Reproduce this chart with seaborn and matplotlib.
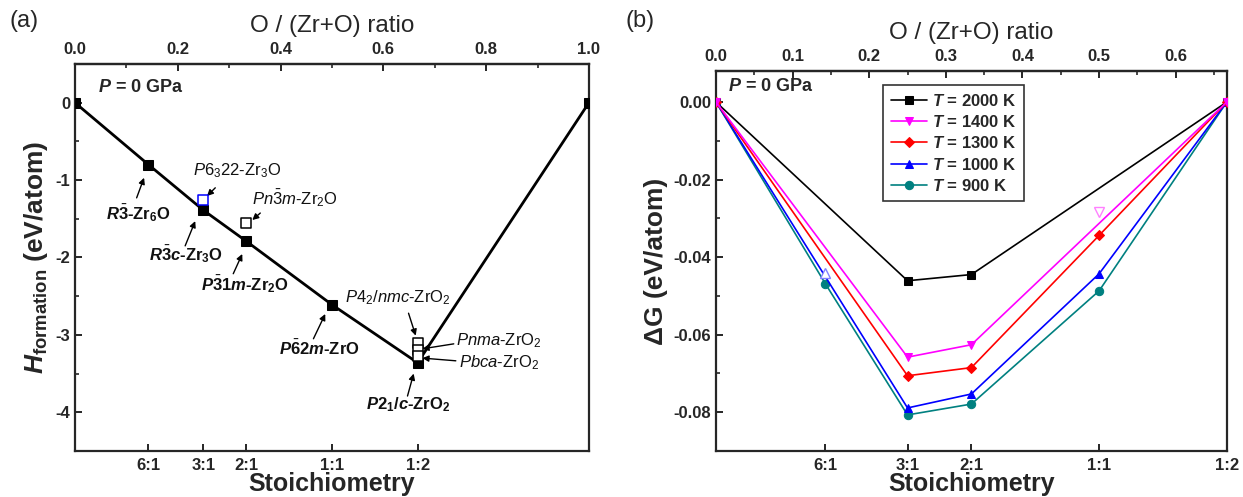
import pandas as pd
import matplotlib
matplotlib.use("Agg")
import matplotlib.pyplot as plt
import seaborn as sns
from matplotlib.ticker import MultipleLocator, FormatStrFormatter

# -----------------------------
# Data
# -----------------------------
# O/(Zr+O) ratio of each stoichiometry
stoich_labels = ["6:1", "3:1", "2:1", "1:1", "1:2"]
stoich_x = [1 / 7, 1 / 4, 1 / 3, 1 / 2, 2 / 3]

# top axis ticks (O/(Zr+O) ratio)
top_ticks_a = [0.0, 0.2, 0.4, 0.6, 0.8, 1.0]
top_minor_a = [0.1, 0.3, 0.5, 0.7, 0.9]
top_ticks_b = [0.0, 0.1, 0.2, 0.3, 0.4, 0.5, 0.6]
top_minor_b = [0.05, 0.15, 0.25, 0.35, 0.45, 0.55, 0.65]

# panel (a): convex hull of formation enthalpy
hull_x = [0.0, 1 / 7, 1 / 4, 1 / 3, 1 / 2, 2 / 3, 1.0]
hull_h = [0.0, -0.80, -1.39, -1.79, -2.61, -3.36, 0.0]

# metastable phases (open squares)
meta_names = ["P6322", "Pn-3m", "P42/nmc", "Pnma", "Pbca"]
meta_x = [1 / 4, 1 / 3, 2 / 3, 2 / 3, 2 / 3]
meta_h = [-1.26, -1.55, -3.10, -3.19, -3.27]
meta_edge = ["#0000ff", "black", "black", "black", "black"]

# panel (b): Gibbs free energy at several temperatures
g2000_x = [0.0, 1 / 4, 1 / 3, 2 / 3]
g2000 = [0.0, -0.0461, -0.0445, 0.0]
g1400_x = [0.0, 1 / 4, 1 / 3, 2 / 3]
g1400 = [0.0, -0.0658, -0.0626, 0.0]
g1300_x = [0.0, 1 / 4, 1 / 3, 1 / 2, 2 / 3]
g1300 = [0.0, -0.0706, -0.0685, -0.0344, 0.0]
g1000_x = [0.0, 1 / 4, 1 / 3, 1 / 2, 2 / 3]
g1000 = [0.0, -0.0789, -0.0753, -0.0443, 0.0]
g900_x = [0.0, 1 / 7, 1 / 4, 1 / 3, 1 / 2, 2 / 3]
g900 = [0.0, -0.0469, -0.0807, -0.0779, -0.0487, 0.0]

# off-hull points (open markers)
open1400_x, open1400 = [1 / 2], [-0.0283]
open1000_x, open1000 = [1 / 7], [-0.0441]

# -----------------------------
# Style
# -----------------------------
sns.set_style("ticks")
plt.rcParams["font.family"] = ["Liberation Sans", "DejaVu Sans"]
plt.rcParams["mathtext.fontset"] = "custom"
plt.rcParams["mathtext.rm"] = "Liberation Sans"
plt.rcParams["mathtext.it"] = "Liberation Sans:italic"
plt.rcParams["mathtext.bf"] = "Liberation Sans:bold"
plt.rcParams["mathtext.bfit"] = "Liberation Sans:italic:bold"
plt.rcParams["axes.unicode_minus"] = False
plt.rcParams["axes.linewidth"] = 1.6

fig = plt.figure(figsize=(12.43, 4.97), dpi=100)
ax1 = fig.add_axes([0.0603, 0.0926, 0.4135, 0.7787])
ax2 = fig.add_axes([0.576, 0.0926, 0.411, 0.7646])


def style_axes(ax, xmax, top_major, top_minor):
    ax.set_xlim(0, xmax)
    ax.set_xticks(stoich_x, stoich_labels)
    ax.tick_params(axis="x", which="both", direction="in", top=False,
                   length=5, width=1.4, labelsize=12, pad=5)
    ax.tick_params(axis="y", which="major", direction="in", right=False,
                   length=5, width=1.4, labelsize=12)
    ax.tick_params(axis="y", which="minor", direction="in", right=False,
                   length=3, width=1.2)
    for lab in ax.get_xticklabels() + ax.get_yticklabels():
        lab.set_fontweight("bold")
    sec = ax.secondary_xaxis("top")
    sec.set_xticks(top_major, [f"{t:.1f}" for t in top_major])
    sec.set_xticks(top_minor, minor=True)
    sec.tick_params(which="major", direction="in", length=5, width=1.4,
                    labelsize=12, pad=5)
    sec.tick_params(which="minor", direction="in", length=3, width=1.2)
    sec.spines["top"].set_linewidth(1.6)
    for lab in sec.get_xticklabels():
        lab.set_fontweight("bold")
    sec.set_xlabel("O / (Zr+O) ratio", fontsize=17.5, labelpad=7)
    ax.set_xlabel("Stoichiometry", fontsize=18, fontweight="bold", labelpad=-1)


# -----------------------------
# (a) formation enthalpy
# -----------------------------
sns.lineplot(x=hull_x, y=hull_h, ax=ax1, color="black", lw=2, marker="s",
             markersize=7, markeredgecolor="black", sort=False, zorder=3)
for mx, mh, ec in zip(meta_x, meta_h, meta_edge):
    sns.scatterplot(x=[mx], y=[mh], ax=ax1, marker="s", s=45, color="white",
                    edgecolor=ec, linewidth=1.1, zorder=4)

ax1.set_ylim(-4.5, 0.5)
ax1.yaxis.set_major_locator(MultipleLocator(1))
ax1.yaxis.set_minor_locator(MultipleLocator(0.5))
ax1.yaxis.set_major_formatter(FormatStrFormatter("%d"))
style_axes(ax1, 1.0, top_ticks_a, top_minor_a)
ax1.set_ylabel(r"$\mathbfit{H}_{\mathbf{formation}}$ (eV/atom)", fontsize=19,
               fontweight="bold", labelpad=4)

# label text, text position, arrow tail, arrow head, bold?
labels_a = [
    (r"$\mathbfit{R}\bar{\mathbf{3}}$-Zr$_{\mathbf{6}}$O", (0.123, -1.43), (0.120, -1.23), (0.1345, -0.97), True),
    (r"$\mathbfit{R}\bar{\mathbf{3}}\mathbfit{c}$-Zr$_{\mathbf{3}}$O", (0.216, -1.96), (0.2144, -1.85), (0.234, -1.53), True),
    (r"$\mathbfit{P}\bar{\mathbf{3}}\mathbf{1}\mathbfit{m}$-Zr$_{\mathbf{2}}$O", (0.331, -2.34), (0.308, -2.21), (0.3255, -1.955), True),
    (r"$\mathbfit{P}\bar{\mathbf{6}}\mathbf{2}\mathbfit{m}$-ZrO", (0.4756, -3.18), (0.464, -3.05), (0.487, -2.73), True),
    (r"$\mathbfit{P}\mathbf{2}_{\mathbf{1}}\mathbf{/}\mathbfit{c}$-ZrO$_{\mathbf{2}}$", (0.649, -3.90), (0.647, -3.79), (0.659, -3.50), True),
    (r"$\mathit{P}6_{3}22$-Zr$_3$O", (0.316, -0.88), (0.273, -1.10), (0.257, -1.206), False),
    (r"$\mathit{Pn}\bar{3}\mathit{m}$-Zr$_2$O", (0.427, -1.23), (0.3606, -1.426), (0.345, -1.516), False),
    (r"$\mathit{P}4_{2}\mathit{/nmc}$-ZrO$_2$", (0.628, -2.52), (0.649, -2.72), (0.663, -3.01), False),
]
for txt, tpos, tail, head, bold in labels_a:
    ax1.text(tpos[0], tpos[1], txt, ha="center", va="center", fontsize=12,
             fontweight="bold" if bold else "normal", color="#111111")
    ax1.annotate("", xy=head, xytext=tail,
                 arrowprops=dict(arrowstyle="-|>", color="black", lw=1,
                                 mutation_scale=9, shrinkA=0, shrinkB=0))

labels_side = [
    (r"$\mathit{Pnma}$-ZrO$_2$", (0.741, -3.077), (0.737, -3.116), (0.676, -3.18)),
    (r"$\mathit{Pbca}$-ZrO$_2$", (0.7466, -3.361), (0.741, -3.335), (0.676, -3.30)),
]
for txt, tpos, tail, head in labels_side:
    ax1.text(tpos[0], tpos[1], txt, ha="left", va="center", fontsize=12,
             color="#111111")
    ax1.annotate("", xy=head, xytext=tail,
                 arrowprops=dict(arrowstyle="-|>", color="black", lw=1,
                                 mutation_scale=9, shrinkA=0, shrinkB=0))

ax1.text(0.045, 0.94, r"$\mathbfit{P}$ = 0 GPa", transform=ax1.transAxes,
         fontsize=13, fontweight="bold", va="center")

# -----------------------------
# (b) Gibbs free energy
# -----------------------------
series_b = [
    (g2000_x, g2000, "black", "s", r"$\mathbfit{T}$ = 2000 K", 3),
    (g1400_x, g1400, "#ff00ff", "v", r"$\mathbfit{T}$ = 1400 K", 6),
    (g1300_x, g1300, "#ff0000", "D", r"$\mathbfit{T}$ = 1300 K", 5),
    (g1000_x, g1000, "#0000ff", "^", r"$\mathbfit{T}$ = 1000 K", 4),
    (g900_x, g900, "#008080", "o", r"$\mathbfit{T}$ = 900 K", 3.5),
]
for xs, ys, col, mk, lab, z in series_b:
    sns.lineplot(x=xs, y=ys, ax=ax2, color=col, marker=mk, lw=1.2,
                 markersize=6 if mk != "D" else 5, markeredgecolor=col,
                 label=lab, sort=False, zorder=z)

ax2.plot(open1400_x, open1400, marker="v", ls="none", markersize=7,
         markerfacecolor="white", markeredgecolor="#ff80ff", zorder=7)
ax2.plot(open1000_x, open1000, marker="^", ls="none", markersize=7,
         markerfacecolor="white", markeredgecolor="#8080ff", zorder=7)

ax2.set_ylim(-0.09, 0.008)
ax2.yaxis.set_major_locator(MultipleLocator(0.02))
ax2.yaxis.set_minor_locator(MultipleLocator(0.01))
ax2.yaxis.set_major_formatter(FormatStrFormatter("%.2f"))
style_axes(ax2, 2 / 3, top_ticks_b, top_minor_b)
ax2.set_ylabel("ΔG (eV/atom)", fontsize=19, fontweight="bold", labelpad=4)

leg = ax2.legend(loc="upper left", bbox_to_anchor=(0.327, 0.963),
                 borderaxespad=0, frameon=True, fancybox=False,
                 prop={"weight": "bold", "size": 12}, handlelength=2.2,
                 labelspacing=0.32, handletextpad=0.3, borderpad=0.45)
leg.get_frame().set_edgecolor("black")
leg.get_frame().set_linewidth(1.2)

ax2.text(0.023, 0.959, r"$\mathbfit{P}$ = 0 GPa", transform=ax2.transAxes,
         fontsize=13, fontweight="bold", va="center")

fig.text(0.008, 0.958, "(a)", fontsize=17, va="center")
fig.text(0.503, 0.958, "(b)", fontsize=17, va="center")

fig.savefig("out.png", dpi=100)
